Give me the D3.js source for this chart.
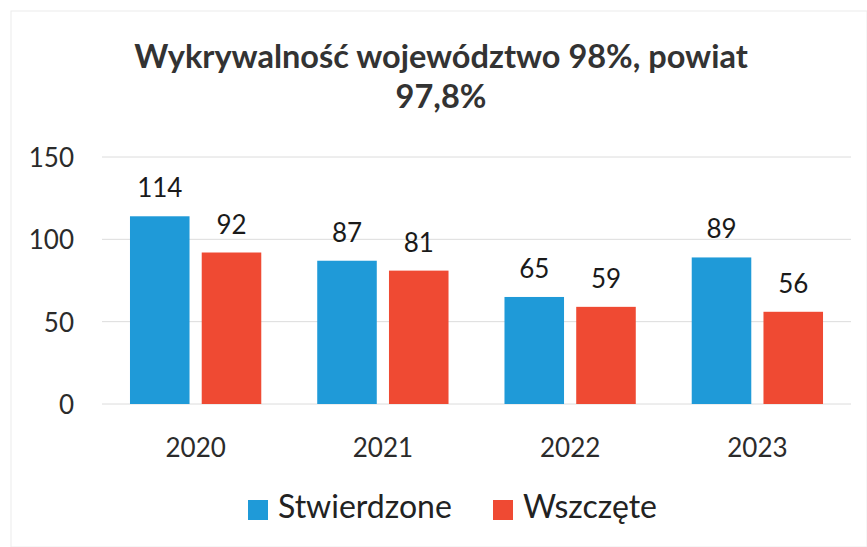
<!DOCTYPE html>
<html><head><meta charset="utf-8">
<script src="https://cdn.jsdelivr.net/npm/d3@7"></script>
<style>body{margin:0;background:#fff}svg{display:block}</style>
</head><body>
<script>
const categories = ["2020","2021","2022","2023"];
const seriesNames = ["Stwierdzone","Wszczęte"];
const stwierdzone = [114,87,65,89];
const wszczete = [92,81,59,56];
const yTicks = [0,50,100,150];
const titleLines = ["Wykrywalność województwo 98%, powiat","97,8%"];
const colors = ["#1f9ad8","#ef4a33"];

const W=867,H=547;
const svg=d3.select("body").append("svg").attr("width",W).attr("height",H);
const font="Lato, 'Open Sans', sans-serif";
svg.append("rect").attr("x",11).attr("y",11).attr("width",W-11).attr("height",H-11).attr("fill","none").attr("stroke","#ececec");

const x=d3.scaleBand().domain(categories).range([102,851]).paddingInner(0).paddingOuter(0);
const x1=d3.scaleBand().domain(seriesNames).range([0,x.bandwidth()]).paddingInner(0.17).paddingOuter(0.39);
const y=d3.scaleLinear().domain([0,150]).range([404,157]);

// gridlines
svg.append("g").selectAll("line").data(yTicks).join("line")
 .attr("x1",102).attr("x2",851).attr("y1",d=>y(d)).attr("y2",d=>y(d))
 .attr("stroke","#dcdcdc").attr("stroke-width",1);

// y axis labels
const yAxis=d3.axisLeft(y).tickValues(yTicks).tickSize(0).tickPadding(0);
const ya=svg.append("g").attr("transform","translate(74,0)").call(yAxis);
ya.select(".domain").remove();
ya.selectAll("text").attr("font-family",font).attr("font-size",26).attr("fill","#2b2b2b").attr("dy","0.36em");

// x axis labels
const xAxis=d3.axisBottom(x).tickSize(0).tickPadding(0);
const xa=svg.append("g").call(xAxis);
xa.select(".domain").remove();
xa.selectAll("text").attr("font-family",font).attr("font-size",26).attr("fill","#2b2b2b").attr("y",457).attr("dy",0);

const data=categories.map((c,i)=>({cat:c,vals:[{s:seriesNames[0],v:stwierdzone[i],c:colors[0]},{s:seriesNames[1],v:wszczete[i],c:colors[1]}]}));
const g=svg.append("g").selectAll("g").data(data).join("g").attr("transform",d=>`translate(${x(d.cat)},0)`);
g.selectAll("rect").data(d=>d.vals).join("rect")
 .attr("x",d=>x1(d.s)).attr("width",x1.bandwidth())
 .attr("y",d=>y(d.v)).attr("height",d=>y(0)-y(d.v)).attr("fill",d=>d.c);
g.selectAll("text").data(d=>d.vals).join("text")
 .attr("x",d=>x1(d.s)+x1.bandwidth()/2).attr("y",d=>y(d.v)-19)
 .attr("text-anchor","middle").attr("font-family",font).attr("font-size",26).attr("fill","#1a1a1a")
 .text(d=>d.v);

// title
svg.append("g").selectAll("text").data(titleLines).join("text")
 .attr("x",441).attr("y",(d,i)=>68+i*40).attr("text-anchor","middle")
 .attr("font-family",font).attr("font-weight","bold").attr("font-size",32.5).attr("fill","#333")
 .text(d=>d);

// legend
const legend=[{s:seriesNames[0],c:colors[0],x:248},{s:seriesNames[1],c:colors[1],x:493}];
const lg=svg.append("g").selectAll("g").data(legend).join("g").attr("transform",d=>`translate(${d.x},0)`);
lg.append("rect").attr("x",0).attr("y",500).attr("width",20).attr("height",20).attr("fill",d=>d.c);
lg.append("text").attr("x",30).attr("y",518).attr("font-family",font).attr("font-size",32).attr("fill","#222").text(d=>d.s);
</script>
</body></html>
